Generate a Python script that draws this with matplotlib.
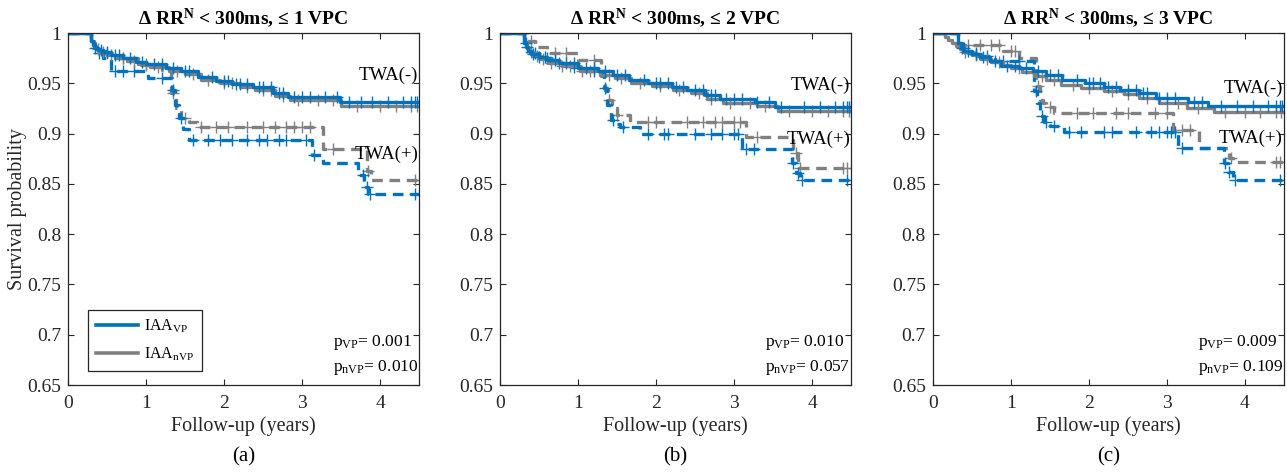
import numpy as np
import matplotlib
matplotlib.use("Agg")
import matplotlib.pyplot as plt
from matplotlib.lines import Line2D

plt.rcParams['font.family'] = ['Liberation Serif', 'DejaVu Serif']
plt.rcParams['mathtext.fontset'] = 'custom'
plt.rcParams['mathtext.rm'] = 'Liberation Serif'
plt.rcParams['mathtext.it'] = 'Liberation Serif:italic'
plt.rcParams['mathtext.bf'] = 'Liberation Serif:bold'

BLUE = '#0072BD'
GRAY = '#808080'
XMAX = 4.5

# ---------------- data ----------------
titles = [r"$\mathbf{\Delta}$ RR$^{\mathbf{N}}$ < 300ms, ≤ 1 VPC",
          r"$\mathbf{\Delta}$ RR$^{\mathbf{N}}$ < 300ms, ≤ 2 VPC",
          r"$\mathbf{\Delta}$ RR$^{\mathbf{N}}$ < 300ms, ≤ 3 VPC"]
panel_labels = ["(a)", "(b)", "(c)"]
p_vp = ["0.001", "0.010", "0.009"]
p_nvp = ["0.010", "0.057", "0.109"]

# Panel a
a_vp_neg_t = [0.30, 0.32, 0.34, 0.38, 0.45, 0.55, 0.70, 0.87, 1.00, 1.26, 1.45, 1.67, 1.90, 2.10, 2.37, 2.63, 2.82, 3.49]
a_vp_neg_s = [0.992, 0.988, 0.985, 0.983, 0.981, 0.978, 0.975, 0.971, 0.969, 0.965, 0.962, 0.956, 0.952, 0.949, 0.946, 0.940, 0.936, 0.931]
a_vp_neg_c = [0.35, 0.42, 0.5, 0.6, 0.65, 0.8, 0.95, 1.1, 1.2, 1.35, 1.5, 1.55, 1.85, 2.0, 2.05, 2.15, 2.2, 2.3, 2.45, 2.5, 2.6, 2.7, 2.75, 2.9, 3.0, 3.1, 3.3, 3.45, 3.6, 3.75, 3.9, 4.1, 4.3, 4.4, 4.45, 4.48]
a_nvp_neg_t = [0.30, 0.33, 0.36, 0.40, 0.50, 0.60, 0.75, 0.90, 1.05, 1.30, 1.50, 1.70, 1.95, 2.20, 2.40, 2.65, 2.85, 3.50]
a_nvp_neg_s = [0.992, 0.987, 0.984, 0.981, 0.978, 0.975, 0.972, 0.969, 0.966, 0.962, 0.959, 0.953, 0.950, 0.946, 0.943, 0.937, 0.933, 0.927]
a_nvp_neg_c = [0.38, 0.45, 0.55, 0.7, 0.85, 1.0, 1.15, 1.4, 1.6, 1.8, 2.0, 2.1, 2.3, 2.5, 2.6, 2.75, 2.95, 3.2, 3.4, 3.7, 4.0, 4.2, 4.4, 4.47]
a_vp_pos_t = [0.30, 0.33, 0.37, 0.45, 0.55, 1.03, 1.33, 1.37, 1.42, 1.47, 1.55, 3.13, 3.27, 3.72, 3.80, 3.85]
a_vp_pos_s = [0.990, 0.985, 0.980, 0.975, 0.962, 0.955, 0.943, 0.928, 0.915, 0.905, 0.894, 0.879, 0.871, 0.859, 0.847, 0.840]
a_vp_pos_c = [0.4, 0.6, 0.7, 0.85, 1.2, 1.35, 1.45, 1.6, 1.8, 1.95, 2.1, 2.3, 2.45, 2.55, 2.7, 2.8, 3.05, 3.15, 3.78, 3.83, 3.87, 4.45]
a_nvp_pos_t = [0.30, 0.35, 0.45, 0.60, 0.90, 1.20, 1.32, 1.38, 1.45, 1.55, 1.65, 3.27, 3.83, 3.88]
a_nvp_pos_s = [0.990, 0.985, 0.980, 0.975, 0.968, 0.963, 0.940, 0.925, 0.915, 0.912, 0.907, 0.885, 0.863, 0.854]
a_nvp_pos_c = [0.5, 0.7, 1.0, 1.35, 1.5, 1.7, 1.9, 2.05, 2.3, 2.5, 2.65, 2.8, 2.9, 3.0, 3.1, 3.4, 3.85, 4.45]

# Panel b
b_vp_neg_t = [0.31, 0.33, 0.36, 0.40, 0.50, 0.60, 0.75, 1.00, 1.25, 1.45, 1.65, 1.90, 2.20, 2.40, 2.63, 2.82, 3.27, 3.53]
b_vp_neg_s = [0.990, 0.986, 0.982, 0.979, 0.976, 0.973, 0.970, 0.965, 0.962, 0.958, 0.953, 0.950, 0.946, 0.943, 0.938, 0.934, 0.931, 0.926]
b_vp_neg_c = [0.35, 0.42, 0.5, 0.58, 0.7, 0.85, 0.95, 1.1, 1.2, 1.35, 1.5, 1.6, 1.85, 2.0, 2.05, 2.15, 2.25, 2.35, 2.5, 2.6, 2.7, 2.75, 2.9, 3.0, 3.1, 3.3, 3.45, 3.6, 3.9, 4.1, 4.3, 4.4, 4.45, 4.48]
b_nvp_neg_t = [0.31, 0.34, 0.38, 0.42, 0.52, 0.62, 0.80, 1.02, 1.28, 1.48, 1.68, 1.95, 2.22, 2.45, 2.66, 2.86, 3.30, 3.56]
b_nvp_neg_s = [0.990, 0.985, 0.981, 0.977, 0.974, 0.970, 0.967, 0.962, 0.958, 0.955, 0.950, 0.947, 0.943, 0.940, 0.934, 0.930, 0.927, 0.922]
b_nvp_neg_c = [0.4, 0.48, 0.55, 0.65, 0.8, 0.9, 1.05, 1.15, 1.4, 1.55, 1.8, 2.05, 2.3, 2.55, 2.7, 2.95, 3.2, 3.4, 3.7, 4.0, 4.2, 4.4, 4.47]
b_vp_pos_t = [0.31, 0.35, 0.40, 0.50, 0.65, 0.90, 1.10, 1.33, 1.37, 1.42, 1.47, 1.54, 1.80, 3.10, 3.74, 3.79, 3.85]
b_vp_pos_s = [0.990, 0.985, 0.980, 0.975, 0.970, 0.966, 0.962, 0.945, 0.928, 0.913, 0.910, 0.907, 0.900, 0.885, 0.871, 0.861, 0.854]
b_vp_pos_c = [0.33, 0.45, 0.6, 0.75, 0.95, 1.2, 1.35, 1.45, 1.58, 1.9, 2.1, 2.15, 2.5, 2.7, 2.85, 3.0, 3.05, 3.15, 3.25, 3.76, 3.82, 3.87, 4.45]
b_nvp_pos_t = [0.35, 0.45, 0.60, 1.00, 1.30, 1.34, 1.38, 1.43, 1.50, 1.67, 3.15, 3.76, 3.82]
b_nvp_pos_s = [0.992, 0.986, 0.980, 0.973, 0.957, 0.943, 0.933, 0.925, 0.918, 0.912, 0.897, 0.881, 0.866]
b_nvp_pos_c = [0.4, 0.7, 0.85, 1.2, 1.4, 1.5, 1.9, 2.0, 2.4, 2.6, 2.75, 2.85, 3.0, 3.08, 3.3, 3.8, 3.85, 4.4, 4.45]

# Panel c
c_vp_neg_t = [0.33, 0.36, 0.40, 0.50, 0.60, 0.74, 0.87, 1.10, 1.28, 1.45, 1.66, 1.95, 2.20, 2.40, 2.64, 2.86, 3.27, 3.53]
c_vp_neg_s = [0.990, 0.985, 0.982, 0.979, 0.976, 0.972, 0.967, 0.965, 0.962, 0.958, 0.953, 0.950, 0.946, 0.943, 0.940, 0.935, 0.931, 0.927]
c_vp_neg_c = [0.38, 0.45, 0.55, 0.65, 0.8, 0.95, 1.05, 1.2, 1.35, 1.5, 1.6, 1.85, 2.0, 2.05, 2.15, 2.25, 2.35, 2.5, 2.6, 2.7, 2.75, 2.9, 3.0, 3.1, 3.35, 3.45, 3.7, 3.9, 4.1, 4.3, 4.4, 4.45, 4.48]
c_nvp_neg_t = [0.16, 0.20, 0.25, 0.30, 0.35, 0.40, 0.50, 0.60, 0.75, 0.90, 1.00, 1.15, 1.30, 1.45, 1.65, 1.90, 2.20, 2.45, 2.65, 2.90, 3.26, 3.60]
c_nvp_neg_s = [0.996, 0.993, 0.990, 0.987, 0.984, 0.981, 0.978, 0.974, 0.971, 0.968, 0.965, 0.961, 0.957, 0.953, 0.948, 0.945, 0.942, 0.939, 0.935, 0.930, 0.925, 0.921]
c_nvp_neg_c = [0.42, 0.55, 0.7, 0.85, 1.1, 1.4, 1.55, 1.8, 2.0, 2.3, 2.5, 2.75, 3.0, 3.15, 3.4, 3.75, 4.0, 4.2, 4.4, 4.47]
c_vp_pos_t = [0.33, 0.37, 0.45, 0.60, 0.80, 1.30, 1.34, 1.38, 1.43, 1.50, 1.68, 3.14, 3.73, 3.78, 3.85]
c_vp_pos_s = [0.990, 0.985, 0.980, 0.977, 0.972, 0.942, 0.930, 0.917, 0.912, 0.908, 0.902, 0.886, 0.871, 0.862, 0.854]
c_vp_pos_c = [0.4, 0.55, 0.7, 0.9, 1.1, 1.32, 1.4, 1.45, 1.55, 1.75, 1.9, 2.2, 2.3, 2.6, 2.8, 2.9, 3.0, 3.05, 3.1, 3.2, 3.75, 3.8, 3.87, 4.45]
c_nvp_pos_t = [0.33, 0.90, 1.10, 1.33, 1.37, 1.42, 1.45, 1.55, 3.08, 3.41, 3.80, 3.85]
c_nvp_pos_s = [0.988, 0.982, 0.975, 0.947, 0.933, 0.930, 0.926, 0.920, 0.904, 0.886, 0.876, 0.872]
c_nvp_pos_c = [0.45, 0.6, 0.75, 0.85, 1.0, 1.05, 1.35, 1.5, 1.85, 2.05, 2.35, 2.5, 2.85, 3.0, 3.2, 3.3, 3.82, 4.4, 4.45]

panels = [
    dict(vp_neg=(a_vp_neg_t, a_vp_neg_s, a_vp_neg_c), nvp_neg=(a_nvp_neg_t, a_nvp_neg_s, a_nvp_neg_c),
         vp_pos=(a_vp_pos_t, a_vp_pos_s, a_vp_pos_c), nvp_pos=(a_nvp_pos_t, a_nvp_pos_s, a_nvp_pos_c)),
    dict(vp_neg=(b_vp_neg_t, b_vp_neg_s, b_vp_neg_c), nvp_neg=(b_nvp_neg_t, b_nvp_neg_s, b_nvp_neg_c),
         vp_pos=(b_vp_pos_t, b_vp_pos_s, b_vp_pos_c), nvp_pos=(b_nvp_pos_t, b_nvp_pos_s, b_nvp_pos_c)),
    dict(vp_neg=(c_vp_neg_t, c_vp_neg_s, c_vp_neg_c), nvp_neg=(c_nvp_neg_t, c_nvp_neg_s, c_nvp_neg_c),
         vp_pos=(c_vp_pos_t, c_vp_pos_s, c_vp_pos_c), nvp_pos=(c_nvp_pos_t, c_nvp_pos_s, c_nvp_pos_c)),
]
twa_neg_y = [0.958, 0.948, 0.945]
twa_pos_y = [0.879, 0.894, 0.895]


def km(ax, t, s, c, color, dashed):
    t = np.asarray(t, float)
    s = np.asarray(s, float)
    tt = np.concatenate([[0.0], t, [XMAX]])
    ss = np.concatenate([[1.0], s, [s[-1]]])
    line, = ax.step(tt, ss, where='post', color=color, lw=2.4)
    if dashed:
        line.set_dashes((3.2, 2.0))
    c = np.asarray(c, float)
    idx = np.searchsorted(tt, c, side='right') - 1
    ax.plot(c, ss[idx], ls='none', marker='+', ms=8, mew=1.0, color=color)


fig = plt.figure(figsize=(12.87, 4.72), dpi=100)
lefts = [68 / 1287, 500 / 1287, 932.7 / 1287]
W = 351 / 1287
B = 1 - 385 / 472
H = 352 / 472
axcol = '#262626'

for i, p in enumerate(panels):
    ax = fig.add_axes([lefts[i], B, W, H])
    km(ax, *p['nvp_pos'], GRAY, True)
    km(ax, *p['vp_pos'], BLUE, True)
    km(ax, *p['nvp_neg'], GRAY, False)
    km(ax, *p['vp_neg'], BLUE, False)
    ax.set_xlim(0, XMAX)
    ax.set_ylim(0.65, 1.0)
    ax.set_xticks([0, 1, 2, 3, 4])
    ax.set_yticks([0.65, 0.7, 0.75, 0.8, 0.85, 0.9, 0.95, 1.0])
    ax.set_yticklabels(['0.65', '0.7', '0.75', '0.8', '0.85', '0.9', '0.95', '1'])
    ax.tick_params(direction='in', top=True, right=True, labelsize=14, colors=axcol,
                   length=4, width=0.8, pad=5)
    ax.tick_params(axis='x', pad=7)
    for sp in ax.spines.values():
        sp.set_color(axcol)
        sp.set_linewidth(0.9)
    ax.set_title(titles[i], fontsize=14, fontweight='bold', color='black', pad=6)
    ax.set_xlabel('Follow-up (years)', fontsize=14.5, color=axcol, labelpad=3)
    if i == 0:
        ax.set_ylabel('Survival probability', fontsize=14.5, color=axcol)
        ax.yaxis.set_label_coords(-0.118, 0.5)
        handles = [Line2D([0], [0], color=BLUE, lw=2.6), Line2D([0], [0], color=GRAY, lw=2.6)]
        leg = ax.legend(handles, [r'IAA$_{\mathrm{VP}}$', r'IAA$_{\mathrm{nVP}}$'],
                        loc='lower left', bbox_to_anchor=(0.057, 0.04), fontsize=11.5,
                        fancybox=False, edgecolor=axcol, framealpha=1,
                        handlelength=2.6, borderpad=0.5, labelspacing=0.65, handletextpad=0.4,
                        borderaxespad=0.0)
        leg.get_frame().set_linewidth(0.9)
    ax.text(4.49, twa_neg_y[i], 'TWA(-)', fontsize=13.5, color='black', va='center', ha='right')
    ax.text(4.49, twa_pos_y[i], 'TWA(+)', fontsize=13.5, color='black', va='center', ha='right')
    ax.text(3.40, 0.692, r'p$_{\mathrm{VP}}$= ' + p_vp[i], fontsize=12.5, color='black', va='center')
    ax.text(3.40, 0.667, r'p$_{\mathrm{nVP}}$= ' + p_nvp[i], fontsize=12.5, color='black', va='center')
    fig.text(lefts[i] + W / 2, 1 - 457 / 472, panel_labels[i], fontsize=15, ha='center', va='center')

fig.savefig('out.png', dpi=100)
